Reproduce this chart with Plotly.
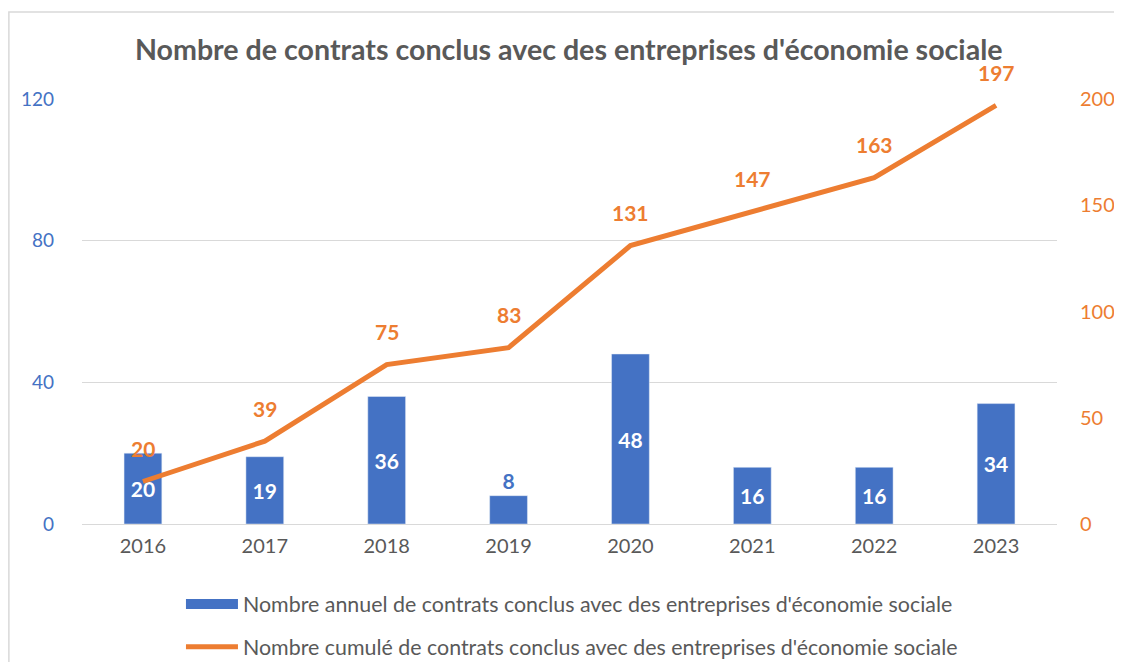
import plotly.graph_objects as go

years = ["2016", "2017", "2018", "2019", "2020", "2021", "2022", "2023"]
annual = [20, 19, 36, 8, 48, 16, 16, 34]
cumul = [20, 39, 75, 83, 131, 147, 163, 197]

name_annual = "Nombre annuel de contrats conclus avec des entreprises d'économie sociale"
name_cumul = "Nombre cumulé de contrats conclus avec des entreprises d'économie sociale"

BLUE = "#4472C4"
ORANGE = "#ED7D31"
GRAY = "#595959"
FONT = "Lato"

bar_pos = ["outside" if v < 12 else "inside" for v in annual]

fig = go.Figure()
fig.add_trace(go.Bar(
    x=years, y=annual, name=name_annual, showlegend=False,
    marker_color=BLUE, text=[str(v) for v in annual], textposition=bar_pos,
    insidetextanchor="middle", textangle=0,
    insidetextfont=dict(color="white", size=21, family=FONT, weight="bold"),
    outsidetextfont=dict(color=BLUE, size=21, family=FONT, weight="bold"),
    cliponaxis=False,
))
fig.add_trace(go.Scatter(
    x=years, y=cumul, yaxis="y2", mode="lines", name=name_cumul, showlegend=False,
    line=dict(color=ORANGE, width=5),
))
# legend proxies
fig.add_trace(go.Scatter(x=[None], y=[None], mode="lines", name=name_annual,
                         line=dict(color=BLUE, width=12), legendgroup="a"))
fig.add_trace(go.Scatter(x=[None], y=[None], mode="lines", name=name_cumul,
                         line=dict(color=ORANGE, width=5), legendgroup="b"))

for i, v in enumerate(cumul):
    fig.add_annotation(x=i, y=v, xref="x", yref="y2", text=f"<b>{v}</b>", showarrow=False,
                       yshift=33, font=dict(color=ORANGE, size=21, family=FONT))

# figure sized to fit inside the page's default 8px body margin (no scrollbars)
fig.update_layout(
    width=1106, height=654,
    margin=dict(l=74, r=57, t=91, b=138, autoexpand=False),
    paper_bgcolor="white", plot_bgcolor="white",
    font=dict(family=FONT, color=GRAY, size=20),
    title=dict(text="<b>Nombre de contrats conclus avec des entreprises d'économie sociale</b>",
               x=0.507, xanchor="center", y=0.936, yanchor="middle",
               font=dict(size=28.6, color=GRAY, family=FONT)),
    bargap=0.69,
    showlegend=True,
    legend=dict(orientation="v", x=0.1015, xanchor="left", y=0.12, yanchor="top",
                yref="container",
                font=dict(size=21.4, color=GRAY, family=FONT), tracegroupgap=12,
                itemwidth=52, bgcolor="rgba(0,0,0,0)"),
    xaxis=dict(type="category", showgrid=False, showline=False, ticks="", automargin=False,
               tickfont=dict(size=20, color=GRAY), ticklabelstandoff=8),
    yaxis=dict(range=[0, 120], tickvals=[0, 40, 80, 120], showgrid=True, gridcolor="#D9D9D9",
               gridwidth=1.3, zeroline=True, zerolinecolor="#D9D9D9", zerolinewidth=1.3,
               automargin=False,
               tickfont=dict(size=19, color=BLUE), ticks="", ticklabelstandoff=27),
    yaxis2=dict(range=[0, 200], tickvals=[0, 50, 100, 150, 200], overlaying="y", side="right",
                showgrid=False, zeroline=False, automargin=False,
                tickfont=dict(size=20, color=ORANGE), ticklabelstandoff=22),
    shapes=[dict(type="rect", xref="paper", yref="paper", x0=-0.075, x1=1.063, y0=-0.339, y1=1.205,
                 line=dict(color="#D9D9D9", width=1.5), fillcolor="rgba(0,0,0,0)", layer="below")],
)

fig.write_html("out.html")
